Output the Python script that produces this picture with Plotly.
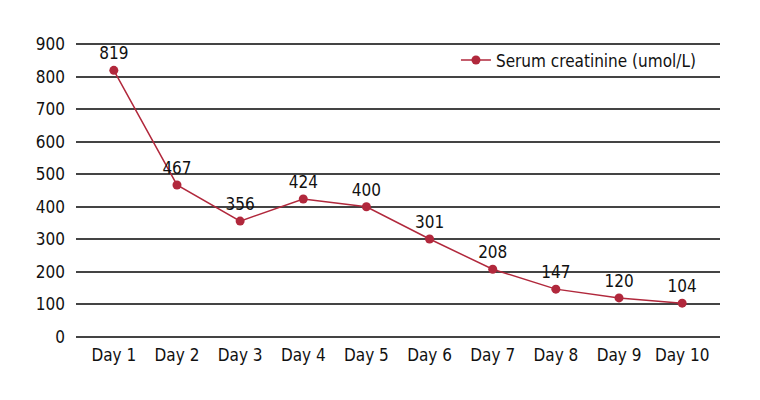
import plotly.graph_objects as go

days = ["Day 1", "Day 2", "Day 3", "Day 4", "Day 5", "Day 6", "Day 7", "Day 8", "Day 9", "Day 10"]
creatinine = [819, 467, 356, 424, 400, 301, 208, 147, 120, 104]
y_ticks = [0, 100, 200, 300, 400, 500, 600, 700, 800, 900]

FONT = "DejaVu Sans Condensed, Liberation Sans Narrow, sans-serif"
RED = "#b1283c"

fig = go.Figure()
fig.add_trace(go.Scatter(
    x=days, y=creatinine, mode="lines+markers+text",
    name="Serum creatinine (umol/L)",
    line=dict(color=RED, width=1.5),
    marker=dict(color=RED, size=9),
    text=[str(v) for v in creatinine], textposition="top center",
    textfont=dict(family=FONT, size=17, color="#111111"),
    cliponaxis=False,
))
fig.update_layout(
    width=752, height=392,
    margin=dict(l=68, r=40, t=30, b=63, autoexpand=False),
    paper_bgcolor="white", plot_bgcolor="white",
    font=dict(family=FONT, size=17, color="#111111"),
    showlegend=True,
    legend=dict(x=0.59, y=0.985, xanchor="left", yanchor="top",
                bgcolor="rgba(0,0,0,0)", font=dict(family=FONT, size=17)),
    xaxis=dict(showgrid=False, showline=False, ticks="", automargin=False,
               ticklabelstandoff=6),
    yaxis=dict(range=[0, 918.4], tickvals=y_ticks, showgrid=True, gridcolor="#444444",
               gridwidth=1.5, zeroline=True, zerolinecolor="#444444", zerolinewidth=1.5,
               showline=False, ticks="", ticklabelstandoff=10, automargin=False),
)
fig.write_html("out.html")
